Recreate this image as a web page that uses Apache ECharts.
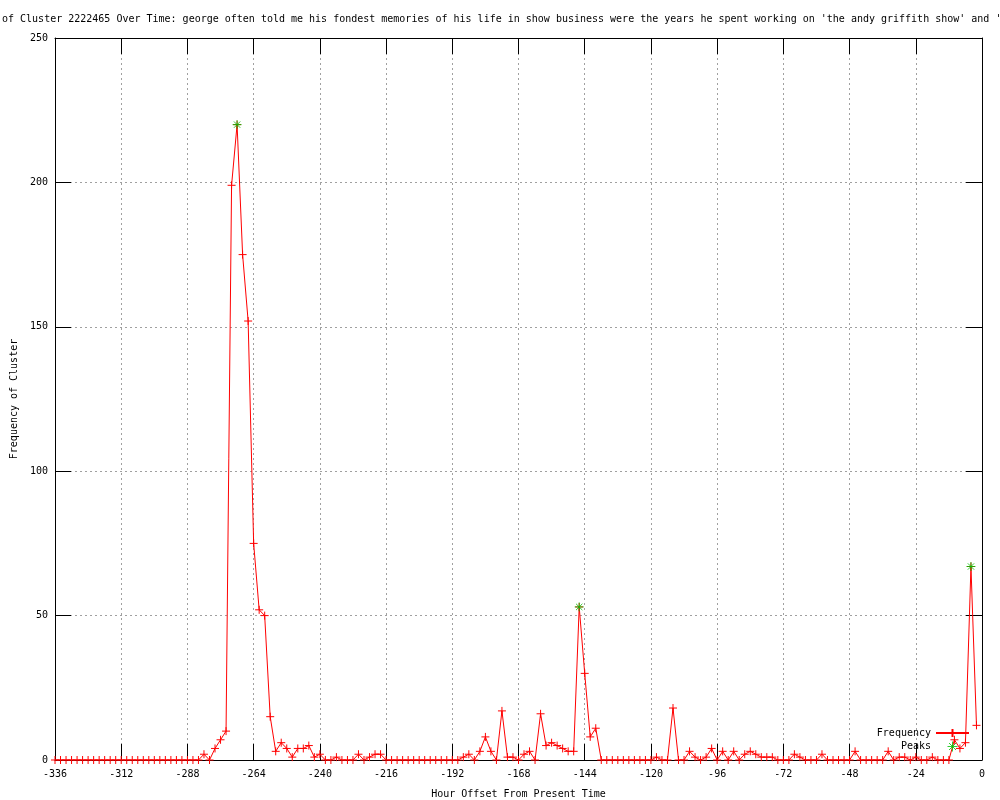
<!DOCTYPE html>
<html>
<head>
<meta charset="utf-8">
<title>Cluster 2222465</title>
<script src="https://cdn.jsdelivr.net/npm/echarts@6.0.0/dist/echarts.min.js"></script>
<style>
  html, body { margin: 0; padding: 0; background: #fff; }
  #chart { width: 1000px; height: 800px; }
</style>
</head>
<body>
<div id="chart"></div>
<script>
const titleText =
  "of Cluster 2222465 Over Time: george often told me his fondest memories of his life in show business were the years he spent working on 'the andy griffith show' and 'm";

// hour offsets, one sample every 2 hours
const hours = [
  -336, -334, -332, -330, -328, -326, -324, -322, -320, -318, -316, -314,
  -312, -310, -308, -306, -304, -302, -300, -298, -296, -294, -292, -290,
  -288, -286, -284, -282, -280, -278, -276, -274, -272, -270, -268, -266,
  -264, -262, -260, -258, -256, -254, -252, -250, -248, -246, -244, -242,
  -240, -238, -236, -234, -232, -230, -228, -226, -224, -222, -220, -218,
  -216, -214, -212, -210, -208, -206, -204, -202, -200, -198, -196, -194,
  -192, -190, -188, -186, -184, -182, -180, -178, -176, -174, -172, -170,
  -168, -166, -164, -162, -160, -158, -156, -154, -152, -150, -148, -146,
  -144, -142, -140, -138, -136, -134, -132, -130, -128, -126, -124, -122,
  -120, -118, -116, -114, -112, -110, -108, -106, -104, -102, -100, -98,
  -96, -94, -92, -90, -88, -86, -84, -82, -80, -78, -76, -74,
  -72, -70, -68, -66, -64, -62, -60, -58, -56, -54, -52, -50,
  -48, -46, -44, -42, -40, -38, -36, -34, -32, -30, -28, -26,
  -24, -22, -20, -18, -16, -14, -12, -10, -8, -6, -4, -2
];

const frequency = [
  0, 0, 0, 0, 0, 0, 0, 0, 0, 0, 0, 0,
  0, 0, 0, 0, 0, 0, 0, 0, 0, 0, 0, 0,
  0, 0, 0, 2, 0, 4, 7, 10, 199, 220, 175, 152,
  75, 52, 50, 15, 3, 6, 4, 1, 4, 4, 5, 1,
  2, 0, 0, 1, 0, 0, 0, 2, 0, 1, 2, 2,
  0, 0, 0, 0, 0, 0, 0, 0, 0, 0, 0, 0,
  0, 0, 1, 2, 0, 3, 8, 3, 0, 17, 1, 1,
  0, 2, 3, 0, 16, 5, 6, 5, 4, 3, 3, 53,
  30, 8, 11, 0, 0, 0, 0, 0, 0, 0, 0, 0,
  0, 1, 0, 0, 18, 0, 0, 3, 1, 0, 1, 4,
  0, 3, 0, 3, 0, 2, 3, 2, 1, 1, 1, 0,
  0, 0, 2, 1, 0, 0, 0, 2, 0, 0, 0, 0,
  0, 3, 0, 0, 0, 0, 0, 3, 0, 1, 1, 0,
  1, 0, 0, 1, 0, 0, 0, 7, 4, 6, 67, 12
];

const peakHours = [-270, -146, -4];
const peakValues = [220, 53, 67];

const xTicks = { min: -336, max: 0, interval: 24 };
const yTicks = { min: 0, max: 250, interval: 50 };

const font = "DejaVu Sans Mono";
const plusSymbol = "path://M0,5L10,5M5,0L5,10";
const starSymbol = "path://M0,5L10,5M5,0L5,10M1.5,1.5L8.5,8.5M1.5,8.5L8.5,1.5";

const freqData = hours.map((h, i) => [h, frequency[i]]);
const peakData = peakHours.map((h, i) => [h, peakValues[i]]);

const border = { show: true, onZero: false, lineStyle: { color: "#000", width: 1 } };
const tick = { show: true, inside: true, length: 16, lineStyle: { color: "#000" } };
const label = { color: "#000", fontFamily: font, fontSize: 10 };

const options = {
  animation: false,
  backgroundColor: "#fff",
  title: {
    text: titleText,
    left: 2,
    top: 14,
    padding: 0,
    textStyle: { fontFamily: font, fontSize: 10, fontWeight: "normal", color: "#000" },
  },
  grid: { left: 55, right: 18, top: 38, bottom: 40, outerBoundsMode: "none" },
  legend: {
    orient: "vertical",
    right: 25,
    top: 723,
    align: "right",
    itemGap: 3,
    itemWidth: 33,
    itemHeight: 10,
    textStyle: { fontFamily: font, fontSize: 10, color: "#000" },
    data: [
      { name: "Frequency" },
      {
        name: "Peaks",
        icon: starSymbol,
        itemStyle: { color: "rgba(0,0,0,0)", borderColor: "#00c000", borderWidth: 1 },
      },
    ],
  },
  xAxis: [
    {
      type: "value",
      ...xTicks,
      name: "Hour Offset From Present Time",
      nameLocation: "middle",
      nameGap: 29,
      nameTextStyle: label,
      axisLine: border,
      axisTick: tick,
      axisLabel: { ...label, margin: 9, showMinLabel: true, showMaxLabel: true },
      splitLine: { show: true, lineStyle: { color: "#a0a0a0", type: [2, 3] } },
    },
    {
      type: "value",
      ...xTicks,
      position: "top",
      axisLine: border,
      axisTick: tick,
      axisLabel: { show: false },
      splitLine: { show: false },
    },
  ],
  yAxis: [
    {
      type: "value",
      ...yTicks,
      name: "Frequency of Cluster",
      nameLocation: "middle",
      nameRotate: 90,
      nameGap: 36,
      nameTextStyle: label,
      axisLine: border,
      axisTick: tick,
      axisLabel: { ...label, margin: 7 },
      splitLine: { show: true, lineStyle: { color: "#a0a0a0", type: [2, 3] } },
    },
    {
      type: "value",
      ...yTicks,
      position: "right",
      axisLine: border,
      axisTick: tick,
      axisLabel: { show: false },
      splitLine: { show: false },
    },
  ],
  series: [
    {
      name: "Frequency",
      type: "line",
      data: freqData,
      symbol: plusSymbol,
      symbolSize: 8,
      showAllSymbol: true,
      lineStyle: { color: "#ff0000", width: 1 },
      itemStyle: { color: "#ff0000", borderColor: "#ff0000", borderWidth: 1 },
      emphasis: { disabled: true },
    },
    {
      name: "Peaks",
      type: "scatter",
      data: peakData,
      symbol: starSymbol,
      symbolSize: 9,
      itemStyle: { color: "rgba(0,0,0,0)", borderColor: "#00c000", borderWidth: 1 },
      emphasis: { disabled: true },
      z: 3,
    },
  ],
};

const chart = echarts.init(document.getElementById("chart"));
chart.setOption(options);
</script>
</body>
</html>
